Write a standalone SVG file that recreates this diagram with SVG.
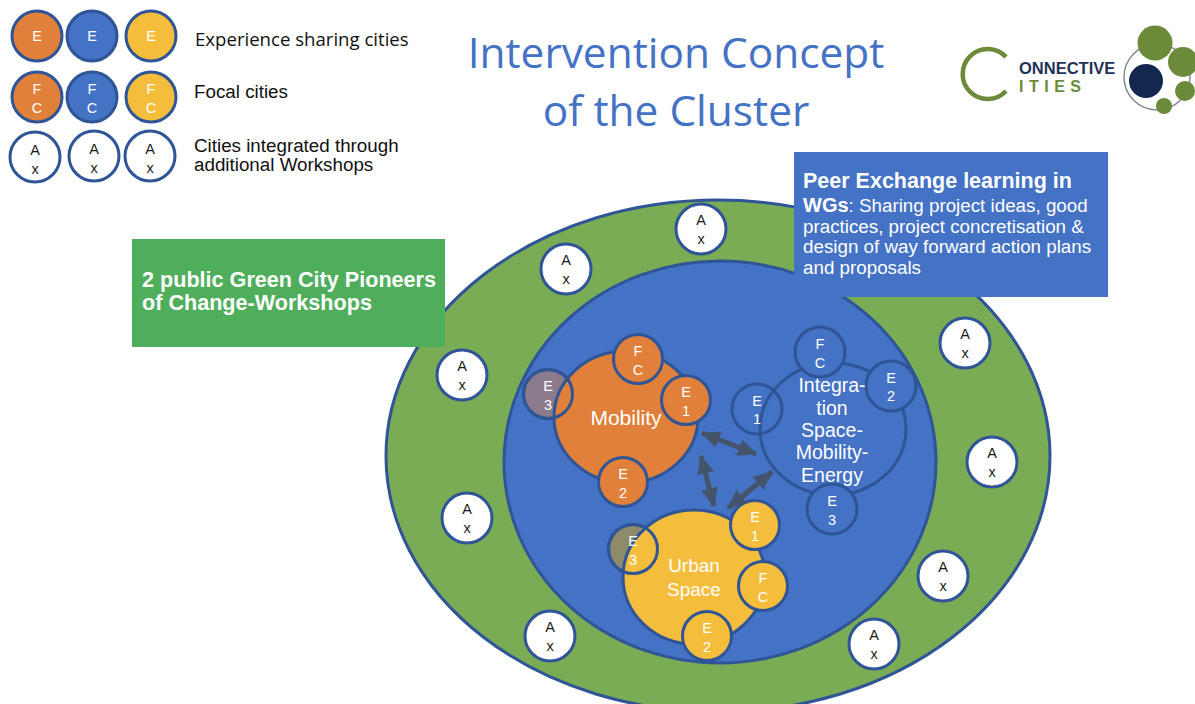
<svg xmlns="http://www.w3.org/2000/svg" width="1195" height="704" viewBox="0 0 1195 704">
<defs>
<style>
text{font-family:"Liberation Sans",Arial,sans-serif;}
.c{text-anchor:middle;fill:#fff;font-size:14.5px;}
.k{fill:#1a1a1a;}
.big{text-anchor:middle;fill:#fff;font-size:19.5px;}
.o{fill:#e0803a;stroke:#2f5597;stroke-width:3;}
.b{fill:#4472c4;stroke:#2f5597;stroke-width:3;}
.y{fill:#f5bd3c;stroke:#2f5597;stroke-width:3;}
.w{fill:#fff;stroke:#2f5597;stroke-width:3;}
.n{fill:none;stroke:#2f5597;stroke-width:3;}
.l{font-size:18.8px;fill:#111;}
.t{font-family:"Open Sans",sans-serif;font-size:42.4px;fill:#4472c4;text-anchor:middle;}
.a{stroke:#44546a;stroke-width:5;fill:none;marker-start:url(#ah);marker-end:url(#ah);}
.g{fill:#6b8a3a;}
.bt{font-size:18.8px;fill:#fff;}
</style>
<marker id="ah" markerUnits="userSpaceOnUse" markerWidth="19" markerHeight="17" refX="18" refY="8.5" orient="auto-start-reverse" viewBox="0 0 19 17"><path d="M0 0L19 8.5L0 17Z" fill="#44546a"/></marker>
</defs>
<rect width="1195" height="704" fill="#fff"/>
<g id="title"><text class="t" x="676" y="68">Intervention Concept</text><text class="t" x="676" y="126">of the Cluster</text></g>
<g id="legend">
<circle class="o" cx="37" cy="36" r="25"/><text class="c" x="37" y="41">E</text>
<circle class="b" cx="92" cy="36" r="25"/><text class="c" x="92" y="41">E</text>
<circle class="y" cx="151" cy="36" r="25"/><text class="c" x="151" y="41">E</text>
<circle class="o" cx="37" cy="97" r="25"/><text class="c" x="37" y="94">F</text><text class="c" x="37" y="113">C</text>
<circle class="b" cx="92" cy="97" r="25"/><text class="c" x="92" y="94">F</text><text class="c" x="92" y="113">C</text>
<circle class="y" cx="151" cy="97" r="25"/><text class="c" x="151" y="94">F</text><text class="c" x="151" y="113">C</text>
<circle class="w" cx="35" cy="157" r="25"/><text class="c k" x="35" y="155">A</text><text class="c k" x="35" y="174">x</text>
<circle class="w" cx="94" cy="156" r="25"/><text class="c k" x="94" y="154">A</text><text class="c k" x="94" y="173">x</text>
<circle class="w" cx="150" cy="156" r="25"/><text class="c k" x="150" y="154">A</text><text class="c k" x="150" y="173">x</text>
<text class="l" x="195" y="46" style="font-family:'Open Sans',sans-serif;font-size:18.6px">Experience sharing cities</text>
<text class="l" x="194" y="98">Focal cities</text>
<text class="l" x="194" y="152">Cities integrated through</text>
<text class="l" x="194" y="171">additional Workshops</text>
</g>
<g id="logo">
<path d="M1006 57A25 25 0 1 0 1006 91" fill="none" stroke="#6b8a3a" stroke-width="4.5"/>
<text x="1019" y="74" font-size="16.5" font-weight="bold" fill="#1f3358">ONNECTIVE</text>
<text x="1019" y="92" font-size="16" font-weight="bold" fill="#6b8a3a" letter-spacing="5.5">ITIES</text>
<circle cx="1157" cy="77" r="33" fill="none" stroke="#7f8a95" stroke-width="1.5"/>
<circle class="g" cx="1155" cy="43" r="17.5"/><circle class="g" cx="1183" cy="62" r="15"/>
<circle cx="1146" cy="81" r="17" fill="#14284f"/>
<circle class="g" cx="1185" cy="91" r="10"/><circle class="g" cx="1164" cy="106" r="8"/>
</g>
<g id="outer-ring"><ellipse cx="718" cy="456" rx="332" ry="256" fill="#7aab55" stroke="#2f5597" stroke-width="3"/></g>
<g id="inner-ring"><ellipse cx="720" cy="462" rx="216" ry="201" class="b"/></g>
<g id="green-box"><rect x="132" y="239" width="313" height="108" fill="#4fae5b"/>
<text x="142" y="287" font-size="21.6" font-weight="bold" fill="#fff">2 public Green City Pioneers</text>
<text x="142" y="310" font-size="21.6" font-weight="bold" fill="#fff">of Change-Workshops</text></g>
<g id="blue-box"><rect x="794" y="152" width="314" height="145" fill="#4472c4"/>
<text x="803" y="188" font-size="21.5" font-weight="bold" fill="#fff">Peer Exchange learning in</text>
<text x="803" y="212" class="bt"><tspan font-weight="bold" font-size="20">WGs</tspan>: Sharing project ideas, good</text>
<text x="803" y="233" class="bt">practices, project concretisation &amp;</text>
<text x="803" y="253" class="bt">design of way forward action plans</text>
<text x="803" y="274" class="bt">and proposals</text></g>
<g id="cities-additional">
<g id="a1"><circle class="w" cx="701" cy="229" r="25"/><text class="c k" x="701" y="225">A</text><text class="c k" x="701" y="244">x</text></g>
<g id="a2"><circle class="w" cx="566" cy="269" r="25"/><text class="c k" x="566" y="265">A</text><text class="c k" x="566" y="284">x</text></g>
<g id="a3"><circle class="w" cx="462" cy="375" r="25"/><text class="c k" x="462" y="371">A</text><text class="c k" x="462" y="390">x</text></g>
<g id="a4"><circle class="w" cx="467" cy="518" r="25"/><text class="c k" x="467" y="514">A</text><text class="c k" x="467" y="533">x</text></g>
<g id="a5"><circle class="w" cx="550" cy="636" r="25"/><text class="c k" x="550" y="632">A</text><text class="c k" x="550" y="651">x</text></g>
<g id="a6"><circle class="w" cx="874" cy="644" r="25"/><text class="c k" x="874" y="640">A</text><text class="c k" x="874" y="659">x</text></g>
<g id="a7"><circle class="w" cx="943" cy="576" r="25"/><text class="c k" x="943" y="572">A</text><text class="c k" x="943" y="591">x</text></g>
<g id="a8"><circle class="w" cx="992" cy="462" r="25"/><text class="c k" x="992" y="458">A</text><text class="c k" x="992" y="477">x</text></g>
<g id="a9"><circle class="w" cx="965" cy="343" r="25"/><text class="c k" x="965" y="339">A</text><text class="c k" x="965" y="358">x</text></g>
</g>
<g id="mobility">
<circle cx="548" cy="394" r="24.5" fill="#8b7b8c" stroke="#2f5597" stroke-width="3"/>
<ellipse class="o" cx="626" cy="417" rx="72" ry="66"/>
<circle class="n" cx="548" cy="394" r="24.5"/>
<text class="big" style="font-size:21px" x="626" y="425">Mobility</text>
<circle class="o" cx="638" cy="359" r="24.5"/><text class="c" x="638" y="356">F</text><text class="c" x="638" y="375">C</text>
<circle class="o" cx="686" cy="400" r="24.5"/><text class="c" x="686" y="397">E</text><text class="c" x="686" y="416">1</text>
<text class="c" x="548" y="391">E</text><text class="c" x="548" y="410">3</text>
<circle class="o" cx="623" cy="482" r="24.5"/><text class="c" x="623" y="479">E</text><text class="c" x="623" y="498">2</text>
</g>
<g id="integration">
<ellipse class="n" cx="833" cy="429" rx="73" ry="66"/>
<circle class="b" cx="820" cy="352" r="25"/><text class="c" x="820" y="349">F</text><text class="c" x="820" y="368">C</text>
<circle class="b" cx="891" cy="386" r="25"/><text class="c" x="891" y="383">E</text><text class="c" x="891" y="401">2</text>
<circle class="n" cx="757" cy="409" r="25"/><text class="c" x="757" y="406">E</text><text class="c" x="757" y="424">1</text>
<circle class="b" cx="832" cy="509" r="25"/><text class="c" x="832" y="506">E</text><text class="c" x="832" y="525">3</text>
<text class="big" x="832" y="392">Integra-</text><text class="big" x="832" y="415">tion</text><text class="big" x="832" y="437">Space-</text><text class="big" x="832" y="459">Mobility-</text><text class="big" x="832" y="482">Energy</text>
</g>
<g id="urban-space">
<circle cx="633" cy="549" r="24.5" fill="#8d8b6c" stroke="#2f5597" stroke-width="3"/>
<ellipse class="y" cx="694" cy="577" rx="71" ry="67"/>
<circle class="n" cx="633" cy="549" r="24.5"/>
<text class="big" style="font-size:19px" x="694" y="572">Urban</text><text class="big" style="font-size:19px" x="694" y="596">Space</text>
<circle class="y" cx="755" cy="525" r="24.5"/><text class="c" x="755" y="522">E</text><text class="c" x="755" y="541">1</text>
<text class="c" x="633" y="546">E</text><text class="c" x="633" y="565">3</text>
<circle class="y" cx="763" cy="586" r="24.5"/><text class="c" x="763" y="583">F</text><text class="c" x="763" y="602">C</text>
<circle class="y" cx="707" cy="636" r="24.5"/><text class="c" x="707" y="633">E</text><text class="c" x="707" y="652">2</text>
</g>
<g id="connectors">
<line class="a" x1="702" y1="433" x2="756" y2="454"/>
<line class="a" x1="701" y1="456" x2="714" y2="506"/>
<line class="a" x1="728" y1="508" x2="772" y2="472"/>
</g>
</svg>
